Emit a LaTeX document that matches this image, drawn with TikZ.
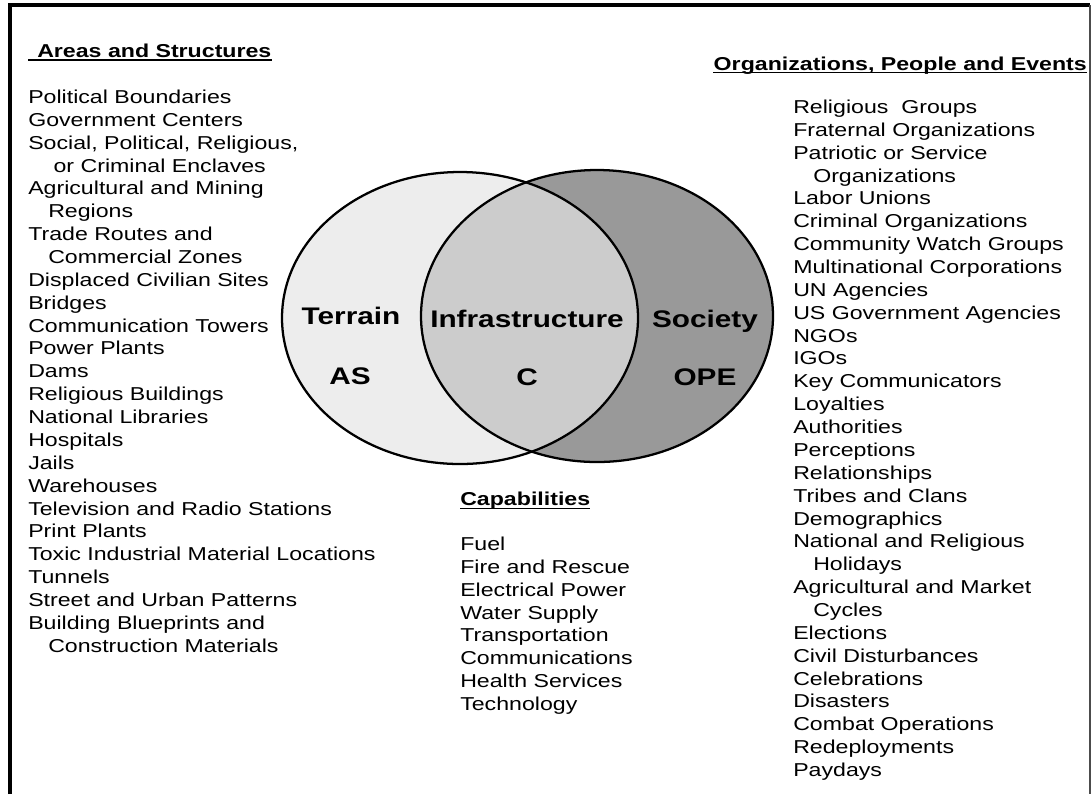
\documentclass[tikz,border=0pt]{standalone}
\usepackage{fontspec}
\setmainfont{Liberation Sans}[FakeStretch=1.24]
\usetikzlibrary{positioning}

\begin{document}
\begin{tikzpicture}[x=0.75pt,y=-0.75pt,
    listtext/.style={anchor=north west, inner sep=0pt, align=left, font=\fontsize{14}{17.15}\selectfont},
    headtext/.style={inner sep=0pt, font=\fontsize{14}{17.2}\selectfont\bfseries},
    venntext/.style={anchor=base, inner sep=0pt, font=\fontsize{18}{21}\selectfont\bfseries},
    headline/.style={line width=1.1pt}]
\useasboundingbox (0,0) rectangle (1092,794);

% frame
\draw[line width=2.6pt] (10,794) -- (10,5) -- (1090,5);
\draw[line width=0.9pt, black!70] (1090,5) -- (1090,794);

% the two sets
\fill[black!7] (460,318) ellipse [x radius=178, y radius=146];
\fill[black!40] (597,316) ellipse [x radius=176, y radius=146];
\begin{scope}
    \clip (460,318) ellipse [x radius=178, y radius=146];
    \fill[black!20] (597,316) ellipse [x radius=176, y radius=146];
\end{scope}
\draw[line width=1.7pt] (460,318) ellipse [x radius=178, y radius=146];
\draw[line width=1.7pt] (597,316) ellipse [x radius=176, y radius=146];

\node[venntext] (terrain) at (351,324) {Terrain};
\node[venntext] (as) at (350,384) {AS};
\node[venntext] (infra) at (527,327) {Infrastructure};
\node[venntext] (cap) at (527,385) {C};
\node[venntext] (society) at (705,327) {Society};
\node[venntext] (ope) at (705,385) {OPE};

% headings
\node[headtext, anchor=base west] (areasHead) at (37,57) {Areas and Structures};
\node[headtext, anchor=base east] (orgHead) at (1087,70) {Organizations, People and Events};
\node[headtext, anchor=base west] (capHead) at (460,505) {Capabilities};
\draw[headline] ([xshift=-6.75pt, yshift=-2.4pt]areasHead.base west) -- ([yshift=-2.4pt]areasHead.base east);
\draw[headline] ([yshift=-2pt]orgHead.base west) -- ([yshift=-2pt]orgHead.base east);
\draw[headline] ([yshift=-2.6pt]capHead.base west) -- ([yshift=-2.6pt]capHead.base east);

% lists
\node[listtext] (areasList) at (28,89.6) {Political Boundaries\\
    Government Centers\\
    Social, Political, Religious,\\
    \hspace*{19pt}or Criminal Enclaves\\
    Agricultural and Mining\\
    \hspace*{15pt}Regions\\
    Trade Routes and\\
    \hspace*{15pt}Commercial Zones\\
    Displaced Civilian Sites\\
    Bridges\\
    Communication Towers\\
    Power Plants\\
    Dams\\
    Religious Buildings\\
    National Libraries\\
    Hospitals\\
    Jails\\
    Warehouses\\
    Television and Radio Stations\\
    Print Plants\\
    Toxic Industrial Material Locations\\
    Tunnels\\
    Street and Urban Patterns\\
    Building Blueprints and\\
    \hspace*{15pt}Construction Materials};

\node[listtext] (capList) at (460,536.6) {Fuel\\
    Fire and Rescue\\
    Electrical Power\\
    Water Supply\\
    Transportation\\
    Communications\\
    Health Services\\
    Technology};

\node[listtext] (orgList) at (793,99.6) {Religious\ \ Groups\\
    Fraternal Organizations\\
    Patriotic or Service\\
    \hspace*{15pt}Organizations\\
    Labor Unions\\
    Criminal Organizations\\
    Community Watch Groups\\
    Multinational Corporations\\
    UN Agencies\\
    US Government Agencies\\
    NGOs\\
    IGOs\\
    Key Communicators\\
    Loyalties\\
    Authorities\\
    Perceptions\\
    Relationships\\
    Tribes and Clans\\
    Demographics\\
    National and Religious\\
    \hspace*{15pt}Holidays\\
    Agricultural and Market\\
    \hspace*{15pt}Cycles\\
    Elections\\
    Civil Disturbances\\
    Celebrations\\
    Disasters\\
    Combat Operations\\
    Redeployments\\
    Paydays};
\end{tikzpicture}
\end{document}
